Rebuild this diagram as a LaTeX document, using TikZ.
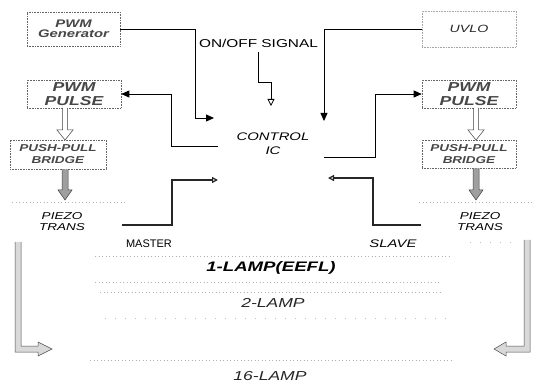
\documentclass[tikz,border=0pt]{standalone}
\usepackage{fontspec}
\setmainfont{Liberation Sans}
\newfontfamily\wf[FakeStretch=1.35]{Liberation Sans}
\usetikzlibrary{arrows.meta,calc}
\newcommand\fs[1]{\fontsize{#1}{#1}\selectfont}
% hollow arrow pointing down: x, ytop, ytip, shaft half width, head half width, head length, fill
\newcommand\hdown[7]{%
  \filldraw[fill=#7, draw=black!75, line width=0.5pt]
    (#1-#4,#2) -- (#1-#4,#3-#6) -- (#1-#5,#3-#6) -- (#1,#3) -- (#1+#5,#3-#6) -- (#1+#4,#3-#6) -- (#1+#4,#2);}
\begin{document}
\begin{tikzpicture}[x=1pt,y=-1pt,
  box/.style={draw=black!60, densely dotted, line width=0.6pt, minimum width=94pt,
    minimum height=28pt, inner sep=0pt, align=center, text=black!72},
  boxfont/.style={font=\wf\bfseries\itshape\fs{#1}},
  lbl/.style={inner sep=0pt, align=center},
  thinc/.style={line width=0.8pt, draw=black},
  heavyc/.style={line width=2.2pt, draw=black!85, -{Triangle[open, length=6pt, width=6pt, line width=1.2pt]}},
  filltip/.style={-{Triangle[length=8pt, width=7pt]}},
  opentip/.style={-{Triangle[open, length=7pt, width=7pt]}},
  dotl/.style={gray!60, line width=0.7pt, dash pattern=on 1pt off 2.5pt},
  sdotl/.style={gray!50, line width=0.7pt, dash pattern=on 1pt off 9pt}
]
\useasboundingbox[fill=white] (0,0) rectangle (536,385);

% ---- boxes
\node[box, boxfont=11, minimum width=93pt, minimum height=34pt] (gen) at (73.5,29) {PWM\\[-1pt]Generator};
\node[box, draw=black!35, font=\wf\itshape\fs{10.5}, text=black!85, minimum width=94pt, minimum height=36pt] (uvlo) at (469,29) {UVLO};
\node[box, boxfont=13] (pulseL) at (74,94) {PWM\\[1pt]PULSE};
\node[box, boxfont=13] (pulseR) at (469,94) {PWM\\[1pt]PULSE};
\node[box, boxfont=10, minimum width=96pt, minimum height=29pt] (ppL) at (58,154.5) {PUSH-PULL\\[2pt]BRIDGE};
\node[box, boxfont=10, minimum width=94pt, minimum height=28pt] (ppR) at (469,154) {PUSH-PULL\\[2pt]BRIDGE};

% ---- labels
\node[lbl, font=\wf\itshape\fs{10}] (pzL) at (62,222) {PIEZO\\[1pt]TRANS};
\node[lbl, font=\wf\itshape\fs{10}] (pzR) at (480,222) {PIEZO\\[1pt]TRANS};
\node[lbl, font=\wf\fs{11.4}] (onoff) at (258.5,43) {ON/OFF SIGNAL};
\node[lbl, font=\wf\itshape\fs{11}] (ctrl) at (273,144) {CONTROL\\[3pt]IC};
\node[lbl, font=\fs{11}] (master) at (149,244) {MASTER};
\node[lbl, font=\wf\itshape\fs{11}] (slave) at (393,244) {SLAVE};
\node[lbl, font=\wf\bfseries\itshape\fs{13.8}] (l1) at (271,268) {1-LAMP(EEFL)};
\node[lbl, font=\wf\itshape\fs{13}, text=black!85] (l2) at (273,303) {2-LAMP};
\node[lbl, font=\wf\itshape\fs{13}, text=black!85] (l16) at (270,376) {16-LAMP};

% ---- connector end points at the control IC
\coordinate (cGen) at (214,118);
\coordinate (cOn) at (271,106);
\coordinate (cUv) at (324,121);
\coordinate (cL) at (218,146);
\coordinate (cR) at (324,157);
\coordinate (mStart) at (122,225);
\coordinate (mEnd) at (218,180);
\coordinate (sStart) at (421,225);
\coordinate (sEnd) at (328,178);

% ---- thin connectors
\draw[thinc, filltip] (gen.east) -| (195,118) -- (cGen);
\draw[thinc, opentip] ($(onoff.south)+(0,5)$) |- (271,82) -- (cOn);
\draw[thinc, filltip] (uvlo.west) -| (cUv);
\draw[thinc, filltip] (cL) -- (171,146) |- (pulseL.east);
\draw[thinc, filltip] (cR) -- (375,157) |- (pulseR.west);

% ---- master / slave
\draw[heavyc] (mStart) -| (172,180) -- (mEnd);
\draw[heavyc] (sStart) -| (373,178) -- (sEnd);

% ---- hollow arrows
\hdown{65}{108}{140}{2.5}{8}{10}{white}
\hdown{476}{108}{140}{2.5}{8}{10}{white}
\hdown{65}{169.5}{200}{3}{7}{10}{gray!75}
\hdown{476}{168.5}{200}{3}{7}{10}{gray!75}

% ---- big L arrows
\filldraw[fill=gray!30, draw=black!70, line width=0.5pt]
  (15,242) -- (15,352) -- (38,352) -- (38,356) -- (52,349) -- (38,342) -- (38,346) -- (21,346) -- (21,242);
\filldraw[fill=gray!30, draw=black!70, line width=0.5pt]
  (530,240) -- (530,352) -- (506,352) -- (506,356) -- (494,349) -- (506,342) -- (506,346) -- (524,346) -- (524,240);

% ---- dotted separators
\draw[dotl] (12,202) -- (127,202);
\draw[dotl] (419,202) -- (533,202);
\draw[sdotl] (470,242) -- (520,242);
\draw[dotl] (95,256) -- (451,256);
\draw[dotl] (95,282) -- (440,282);
\draw[dotl] (100,292) -- (443,292);
\draw[sdotl] (105,318) -- (455,318);
\draw[dotl] (90,360) -- (451,360);
\end{tikzpicture}
\end{document}
